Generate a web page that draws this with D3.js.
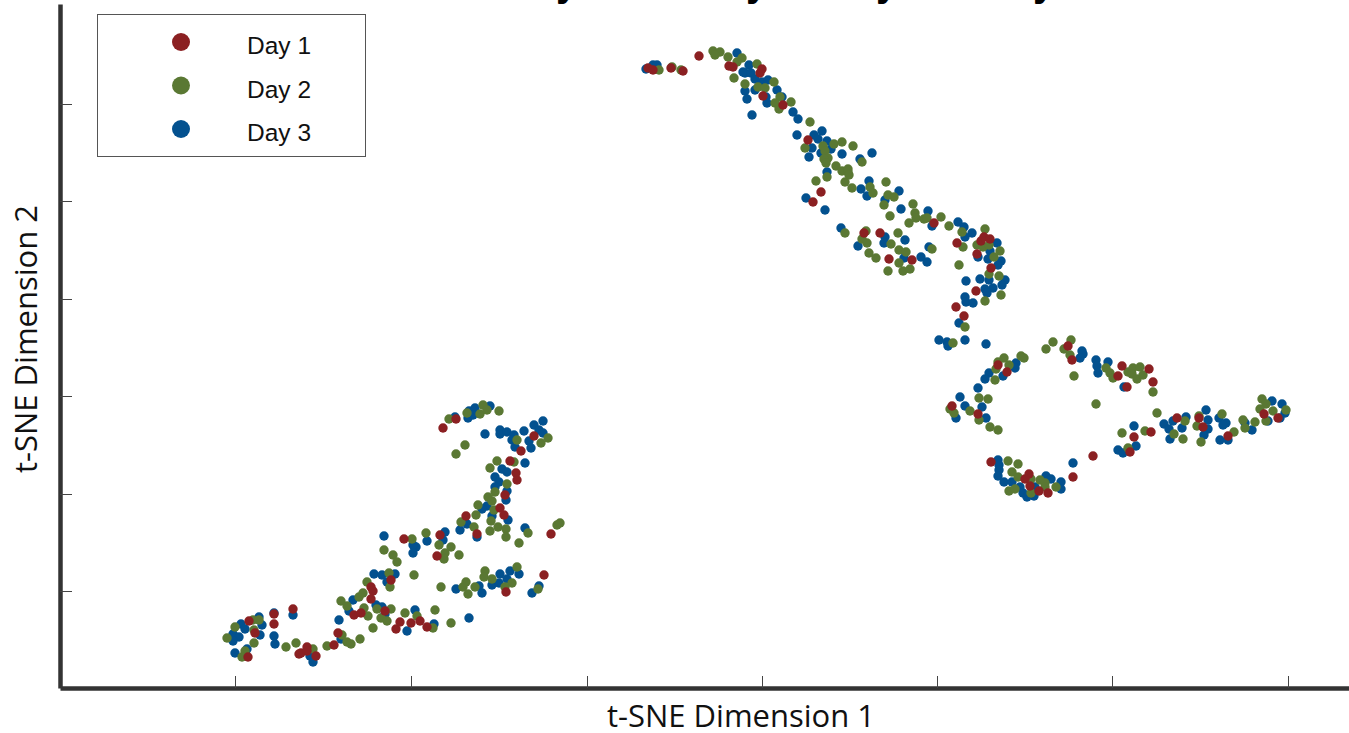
<!DOCTYPE html>
<html>
<head>
<meta charset="utf-8">
<script src="https://cdn.jsdelivr.net/npm/d3@7"></script>
<style>
  html, body { margin: 0; padding: 0; background: #fff; overflow: hidden; }
</style>
</head>
<body>
<div id="chart"></div>
<script>
// the axes have no printed numbers, so values are counted from the axis corner
const xTicks = [175, 351, 527, 702, 877, 1052, 1228];
const yTicks = [97, 194, 292, 389, 487, 584];
const dayNames = ["Day 1", "Day 2", "Day 3"];
const dayColors = ["#8b2022", "#5a7833", "#03518f"];
const titleLetters = ["y", "y", "y", "y"]; // only the tails are left of the cropped title
const titleLetterX = [507, 697, 827, 984];

const day1Points = [[189,67],[195,55],[188,31],[214,74],[214,64],[233,79],[239,34],[241,35],[247,41],[247,37],[256,32],[274,43],[278,55],[294,73],[301,75],[311,101],[313,97],[311,89],[325,77],[331,108],[336,59],[340,66],[383,260],[396,269],[474,252],[461,237],[450,227],[456,215],[457,208],[445,193],[440,180],[444,173],[406,172],[417,154],[491,154],[380,153],[344,149],[377,132],[484,113],[446,96],[351,65],[360,67],[367,61],[588,620],[593,618],[611,620],[623,617],[639,632],[669,622],[673,621],[702,619],[700,615],[703,592],[723,583],[748,548],[761,496],[753,486],[804,455],[820,455],[829,429],[852,428],[874,465],[897,445],[921,447],[924,451],[930,449],[917,434],[931,420],[916,397],[896,381],[904,372],[938,323],[947,316],[892,282],[918,274],[931,226],[969,214],[965,209],[970,202],[979,197],[988,195],[1013,211],[1033,232],[1008,342],[1012,328],[1062,322],[1058,312],[1067,301],[1089,319],[1093,306],[1074,251],[1091,256],[1070,236],[1117,270],[1139,270],[1143,261],[1168,252],[1204,274],[1218,270]];

const day2Points = [[167,50],[175,61],[193,68],[199,68],[194,58],[194,45],[185,37],[182,31],[226,41],[236,45],[253,39],[267,42],[281,87],[287,82],[282,53],[287,46],[291,44],[300,49],[299,91],[303,95],[307,106],[304,80],[308,72],[317,79],[331,79],[321,70],[327,67],[313,60],[329,115],[330,101],[324,138],[333,133],[337,126],[389,269],[407,275],[420,274],[423,283],[427,278],[439,277],[405,243],[396,234],[457,248],[481,245],[488,250],[437,227],[430,220],[454,226],[447,204],[435,196],[428,191],[432,187],[418,183],[434,178],[416,173],[401,166],[414,161],[431,167],[438,161],[430,157],[446,159],[446,151],[468,155],[459,145],[497,163],[500,165],[366,155],[352,149],[379,143],[391,141],[385,135],[399,133],[384,129],[354,113],[381,101],[406,106],[403,101],[408,94],[415,101],[425,117],[424,111],[432,109],[457,121],[452,105],[445,101],[478,99],[375,78],[345,75],[357,72],[391,65],[373,60],[599,618],[612,621],[621,618],[653,637],[660,636],[655,633],[668,631],[682,630],[677,626],[697,624],[674,610],[685,604],[698,601],[705,600],[714,606],[720,591],[715,585],[719,579],[731,586],[750,566],[745,540],[763,542],[765,537],[774,544],[782,546],[768,530],[764,529],[766,525],[776,522],[782,517],[788,516],[785,506],[767,511],[756,507],[793,542],[802,526],[788,519],[789,513],[792,500],[826,506],[810,501],[813,495],[828,493],[834,491],[824,483],[853,484],[855,475],[830,472],[856,470],[864,469],[867,470],[849,465],[881,471],[889,462],[902,456],[925,459],[785,455],[806,457],[802,449],[807,445],[838,455],[831,444],[839,438],[846,436],[872,439],[809,435],[816,430],[839,425],[828,417],[843,417],[850,419],[903,441],[917,443],[923,441],[929,443],[940,437],[934,431],[899,423],[929,414],[939,412],[941,393],[925,387],[905,361],[893,345],[986,339],[993,346],[1004,339],[1011,348],[1010,333],[1014,312],[1036,284],[1046,320],[1050,315],[1053,310],[1068,316],[1062,255],[1068,240],[938,326],[944,330],[949,323],[936,319],[935,308],[961,332],[964,330],[919,290],[928,289],[890,279],[894,275],[910,277],[919,268],[930,261],[938,258],[948,227],[958,224],[952,216],[958,211],[971,209],[980,208],[985,205],[996,201],[949,197],[955,199],[971,195],[985,201],[1073,320],[1080,321],[1072,314],[1077,309],[1083,313],[1093,296],[1097,275],[1085,257],[1114,254],[1123,249],[1125,267],[1139,272],[1137,262],[1141,246],[1162,274],[1174,256],[1183,268],[1185,260],[1195,266],[1206,267],[1202,289],[1206,284],[1200,279],[1213,277],[1226,278]];

const day3Points = [[199,71],[202,63],[181,64],[185,59],[173,54],[179,51],[173,47],[200,53],[214,75],[214,52],[215,44],[233,73],[187,39],[175,35],[250,32],[253,26],[279,68],[281,49],[289,77],[293,88],[314,114],[322,113],[327,106],[335,114],[316,83],[322,81],[325,74],[324,152],[395,271],[408,270],[409,277],[415,280],[430,282],[413,273],[425,254],[440,258],[440,254],[447,256],[454,253],[452,248],[455,241],[464,257],[474,263],[483,267],[479,258],[483,255],[469,247],[471,240],[465,225],[442,219],[447,216],[435,211],[439,206],[435,201],[447,197],[446,188],[427,182],[422,179],[432,172],[448,168],[407,164],[400,158],[417,151],[465,160],[385,156],[383,148],[367,147],[356,141],[353,143],[353,135],[396,99],[419,102],[422,95],[432,103],[440,114],[439,105],[447,109],[450,117],[459,114],[472,95],[479,102],[355,78],[374,64],[409,70],[347,57],[586,619],[593,623],[597,623],[677,635],[685,615],[689,623],[683,616],[691,615],[695,609],[702,606],[708,608],[717,598],[722,591],[706,591],[707,585],[695,598],[685,597],[687,589],[692,573],[733,576],[738,569],[737,553],[754,553],[762,557],[758,549],[767,547],[752,540],[771,539],[761,535],[749,531],[782,534],[767,516],[746,490],[765,478],[800,529],[812,535],[809,507],[801,499],[807,492],[839,497],[825,488],[841,479],[868,477],[872,462],[898,466],[904,461],[912,455],[905,451],[781,460],[825,451],[824,445],[845,448],[798,442],[869,441],[844,430],[861,431],[867,426],[937,445],[930,437],[928,429],[918,431],[941,427],[938,423],[920,409],[929,408],[906,407],[945,408],[942,403],[933,400],[925,399],[927,395],[905,391],[906,386],[913,385],[899,365],[879,348],[887,346],[888,342],[905,348],[926,344],[956,325],[955,320],[943,312],[929,315],[925,309],[918,300],[900,291],[905,282],[922,281],[926,270],[896,270],[938,228],[939,223],[939,218],[938,212],[944,206],[952,206],[960,201],[963,195],[967,191],[974,192],[975,201],[986,212],[991,209],[1001,206],[1001,199],[1013,225],[1022,337],[1023,334],[1020,330],[1036,328],[1037,322],[1038,315],[1048,326],[1064,301],[1058,238],[1063,235],[1074,262],[1076,242],[1104,264],[1113,267],[1109,259],[1126,271],[1122,260],[1110,249],[1146,278],[1148,268],[1148,259],[1144,253],[1159,270],[1166,265],[1163,263],[1160,248],[1168,248],[1192,258],[1185,265],[1208,267],[1212,287],[1222,284],[1225,275],[1220,270]];

const width = 1349;
const height = 733;
const margin = {left: 60, bottom: 45};

const svg = d3.select("#chart")
    .append("svg")
        .attr("width", width)
        .attr("height", height)
        .style("display", "block");

const xScale = d3.scaleLinear()
    .domain([0, width - margin.left])
    .range([margin.left, width]);

const yScale = d3.scaleLinear()
    .domain([0, height - margin.bottom - 4])
    .range([height - margin.bottom, 4]);

// scatter, blue first and red on top
const days = [
    {points: day3Points, color: dayColors[2]},
    {points: day2Points, color: dayColors[1]},
    {points: day1Points, color: dayColors[0]}
];

days.forEach(day => {
    svg.append("g")
        .selectAll("circle")
        .data(day.points)
        .enter()
        .append("circle")
            .attr("cx", d => xScale(d[0]))
            .attr("cy", d => yScale(d[1]))
            .attr("r", 4.7)
            .attr("fill", day.color);
});

// axes, tick marks point inwards and have no labels
const xAxis = svg.append("g")
    .attr("transform", "translate(0," + (height - margin.bottom) + ")")
    .call(d3.axisBottom(xScale).tickValues(xTicks).tickSize(-12).tickSizeOuter(0).tickFormat(""));

const yAxis = svg.append("g")
    .attr("transform", "translate(" + margin.left + ",0)")
    .call(d3.axisLeft(yScale).tickValues(yTicks).tickSize(-12).tickSizeOuter(0).tickFormat(""));

[xAxis, yAxis].forEach(axis => {
    axis.select(".domain").attr("stroke", "#333").attr("stroke-width", 4.5);
    axis.selectAll(".tick line").attr("stroke", "#444").attr("stroke-width", 1);
});

// axis titles
svg.append("text")
    .attr("x", 741)
    .attr("y", 727)
    .attr("text-anchor", "middle")
    .attr("font-family", "'Open Sans', sans-serif")
    .attr("font-size", "31px")
    .attr("fill", "#111")
    .text("t-SNE Dimension 1");

svg.append("text")
    .attr("transform", "translate(37,339) rotate(-90)")
    .attr("text-anchor", "middle")
    .attr("font-family", "'Open Sans', sans-serif")
    .attr("font-size", "31px")
    .attr("fill", "#111")
    .text("t-SNE Dimension 2");

// tails of the title letters at the top edge
svg.selectAll(".title-letter")
    .data(titleLetters)
    .enter()
    .append("text")
        .attr("class", "title-letter")
        .attr("x", (d, i) => xScale(titleLetterX[i]))
        .attr("y", -4)
        .attr("text-anchor", "middle")
        .attr("font-family", "'Liberation Sans', sans-serif")
        .attr("font-weight", "bold")
        .attr("font-size", "40px")
        .text(d => d);

// legend
const legend = svg.append("g");

legend.append("rect")
    .attr("x", 97.5)
    .attr("y", 14.5)
    .attr("width", 268)
    .attr("height", 142)
    .attr("fill", "#fff")
    .attr("stroke", "#555")
    .attr("stroke-width", 1);

const legendRows = legend.selectAll(".legend-row")
    .data(dayNames)
    .enter()
    .append("g")
        .attr("class", "legend-row")
        .attr("transform", (d, i) => "translate(0," + (42 + i * 43.5) + ")");

legendRows.append("circle")
    .attr("cx", 181)
    .attr("r", 9)
    .attr("fill", (d, i) => dayColors[i]);

legendRows.append("text")
    .attr("x", 247)
    .attr("y", 12)
    .attr("font-family", "'Liberation Sans', sans-serif")
    .attr("font-size", "24.5px")
    .attr("fill", "#111")
    .text(d => d);
</script>
</body>
</html>
